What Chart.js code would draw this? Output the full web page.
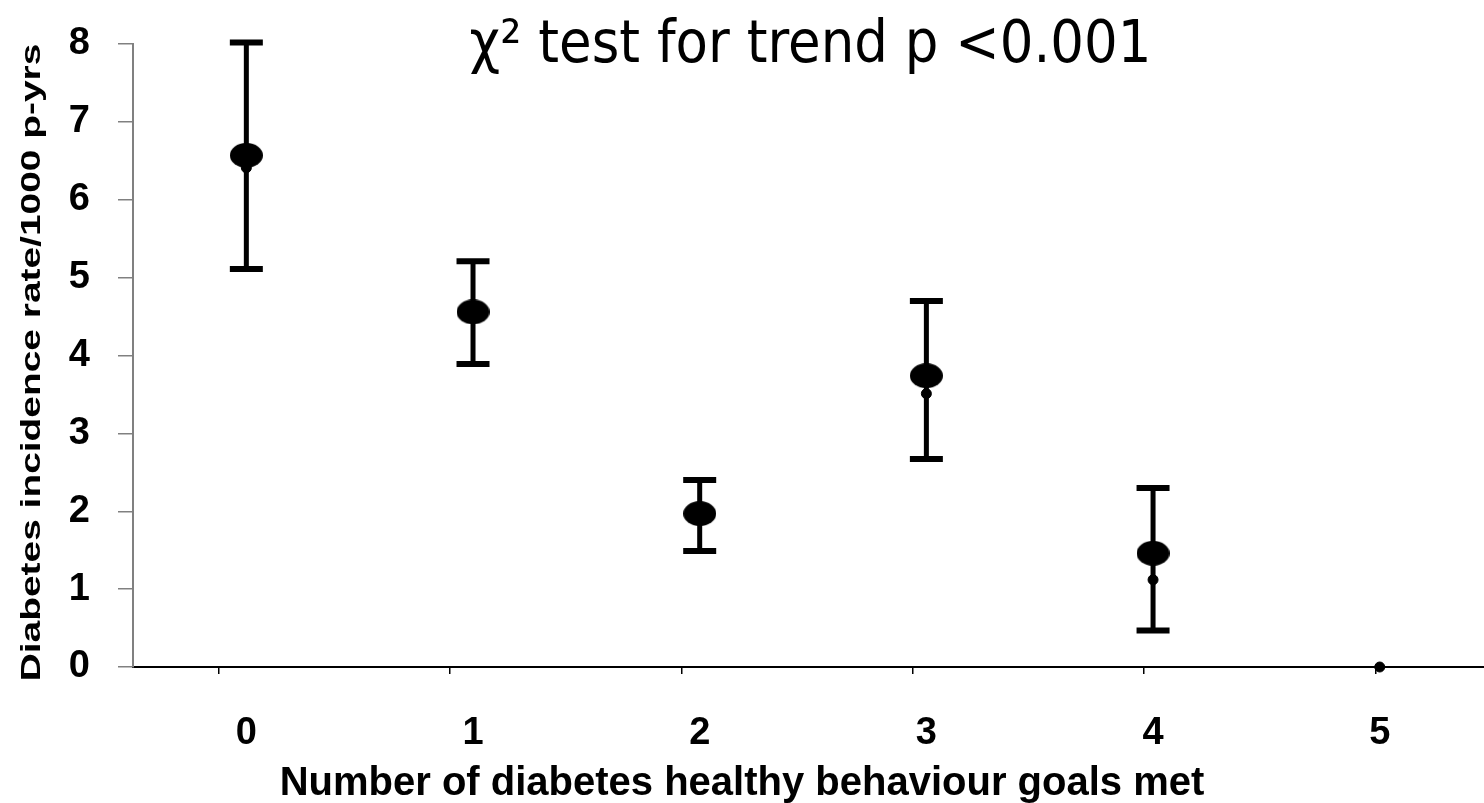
<!DOCTYPE html>
<html>
<head>
<meta charset="utf-8">
<title>Diabetes incidence by healthy behaviour goals met</title>
<script src="https://cdn.jsdelivr.net/npm/chart.js@4.4.1/dist/chart.umd.min.js"></script>
<style>
  html, body { margin: 0; padding: 0; background: #fff; }
</style>
</head>
<body>
<canvas id="rateChart" width="1484" height="803"></canvas>
<script>
// values
const goalsMet = [0, 1, 2, 3, 4, 5];
const rateMarker = [6.57, 4.56, 1.97, 3.74, 1.46, null];
const rateDot = [6.41, 4.5, 1.95, 3.51, 1.12, 0];
const ciLower = [5.11, 3.89, 1.49, 2.67, 0.47, null];
const ciUpper = [8.02, 5.21, 2.4, 4.7, 2.3, null];

const trendText = "\u03C7\u00B2 test for trend p <0.001";
const xTitle = "Number of diabetes healthy behaviour goals met";
const yTitle = "Diabetes incidence rate/1000 p-yrs";

const boldFont = "'Liberation Sans', Arial, sans-serif";

function ellipseMarker(w, h) {
  const c = document.createElement("canvas");
  c.width = w;
  c.height = h;
  const g = c.getContext("2d");
  g.fillStyle = "#000";
  g.beginPath();
  g.ellipse(w / 2, h / 2, w / 2, h / 2, 0, 0, Math.PI * 2);
  g.fill();
  return c;
}

// whiskers: low -> high for each group, null breaks the line
const whiskers = [];
goalsMet.forEach((g, i) => {
  if (ciLower[i] == null) return;
  whiskers.push({ x: g, y: ciLower[i] }, { x: g, y: ciUpper[i] }, { x: g, y: null });
});

const extraText = {
  id: "extraText",
  afterDraw(chart) {
    const { ctx, chartArea } = chart;
    ctx.save();
    ctx.fillStyle = "#000";
    ctx.font = "53px 'DejaVu Sans', Verdana, sans-serif";
    ctx.textAlign = "center";
    ctx.textBaseline = "alphabetic";
    ctx.translate((chartArea.left + chartArea.right) / 2 + 2, 62);
    ctx.scale(1, 1.12);
    ctx.fillText(trendText, 0, 0);
    ctx.restore();

    ctx.save();
    ctx.fillStyle = "#000";
    ctx.font = "bold 27px " + boldFont;
    ctx.translate(33, (chartArea.top + chartArea.bottom) / 2 + 7);
    ctx.rotate(-Math.PI / 2);
    ctx.scale(1.44, 1);
    ctx.textAlign = "center";
    ctx.textBaseline = "middle";
    ctx.fillText(yTitle, 0, 0);
    ctx.restore();
  },
};

const ctx = document.getElementById("rateChart").getContext("2d");
new Chart(ctx, {
  type: "scatter",
  data: {
    datasets: [
      {
        label: "95% CI",
        xAxisID: "x",
        data: whiskers,
        showLine: true,
        spanGaps: false,
        clip: false,
        borderColor: "#000",
        borderWidth: 5,
        pointStyle: "line",
        pointRadius: 16.5,
        pointBorderWidth: 6,
        pointBorderColor: "#000",
      },
      {
        label: "Rate",
        xAxisID: "x",
        data: goalsMet.map((g, i) => ({ x: g, y: rateDot[i] })),
        pointRadius: 5,
        backgroundColor: "#000",
        borderColor: "#000",
        clip: false,
      },
      {
        label: "Rate marker",
        xAxisID: "x",
        data: goalsMet.map((g, i) => ({ x: g, y: rateMarker[i] })),
        pointStyle: ellipseMarker(33, 25),
        clip: false,
      },
    ],
  },
  options: {
    responsive: false,
    animation: false,
    events: [],
    layout: { autoPadding: false, padding: { top: 44, left: 0, right: 0, bottom: 0 } },
    scales: {
      x: {
        type: "linear",
        position: "bottom",
        weight: 1,
        min: -0.5,
        max: 5.46,
        ticks: {
          stepSize: 1,
          includeBounds: false,
          color: "#000",
          padding: 37,
          font: { family: boldFont, size: 38, weight: "bold" },
        },
        grid: { display: false, drawTicks: false },
        border: { display: false },
        afterFit(scale) {
          scale.height = 76;
        },
      },
      xMarks: {
        type: "linear",
        position: "bottom",
        weight: 0,
        min: -0.37,
        max: 5.47,
        ticks: { display: false, stepSize: 1, includeBounds: false },
        grid: { drawOnChartArea: false, tickLength: 7, color: "#000", lineWidth: 1.5 },
        border: { color: "#000", width: 2 },
        afterFit(scale) {
          scale.height = 7;
        },
      },
      y: {
        min: 0,
        max: 8,
        ticks: {
          stepSize: 1,
          color: "#000",
          padding: 28,
          font: { family: boldFont, size: 38, weight: "bold" },
        },
        grid: { drawOnChartArea: false, tickLength: 15, color: "#808080", lineWidth: 1.5 },
        border: { color: "#808080", width: 2 },
        afterFit(scale) {
          scale.width = 133;
          scale.paddingTop = 0;
          scale.paddingBottom = 0;
        },
      },
    },
    plugins: {
      legend: { display: false },
      tooltip: { enabled: false },
      title: {
        display: true,
        position: "bottom",
        text: xTitle,
        color: "#000",
        font: { family: boldFont, size: 40, weight: "bold" },
        padding: { top: 10, bottom: -5 },
      },
    },
  },
  plugins: [extraText],
});
</script>
</body>
</html>
